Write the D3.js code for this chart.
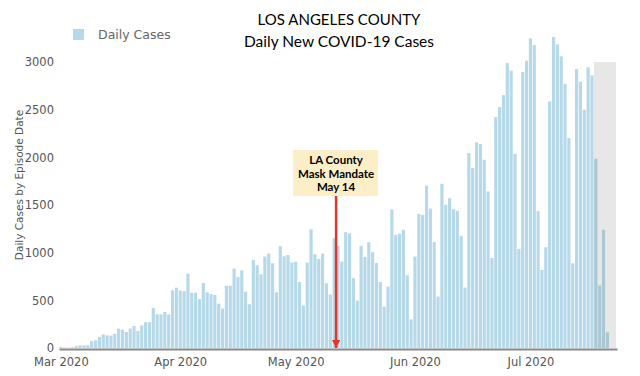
<!DOCTYPE html>
<html lang="en">
<head>
  <meta charset="UTF-8">
  <title>LA County Daily New COVID-19 Cases</title>
  <script src="https://d3js.org/d3.v7.min.js"></script>
  <style>
    body { margin: 0; background: #fff; }
    .bar { fill: #b5d9e8; }
    .axis text { font-family: "DejaVu Sans", sans-serif; fill: #555; }
  </style>
</head>
<body>
  <script>
    // daily cases by episode date, one array per month (starting Mar 1 2020)
    const marchCases = [12, 6, 4, 8, 20, 28, 28, 30, 73, 80, 115, 143, 133, 130, 150, 203, 192, 168, 203, 231, 178, 238, 270, 270, 420, 353, 353, 378, 353, 605, 633];
    const aprilCases = [602, 595, 780, 580, 580, 513, 682, 584, 567, 556, 465, 413, 654, 654, 833, 745, 815, 591, 458, 924, 868, 773, 959, 990, 889, 584, 1067, 962, 975, 896];
    const mayCases = [905, 693, 445, 896, 1246, 984, 935, 991, 679, 560, 1152, 1071, 907, 1215, 1204, 732, 497, 1071, 956, 1110, 1005, 893, 693, 434, 644, 1453, 1187, 1200, 1240, 763, 301];
    const juneCases = [959, 1407, 1397, 1703, 1463, 1110, 539, 1722, 1502, 1572, 1456, 1439, 1176, 634, 2044, 1887, 2156, 2139, 1974, 1642, 945, 2422, 2527, 2653, 2989, 2909, 2037, 1040, 2895, 3014];
    const julyCases = [3248, 3178, 1435, 819, 1057, 2587, 3262, 3185, 3059, 2769, 2202, 889, 2926, 2793, 2499, 2944, 2860, 1985, 655, 1239, 165];
    const yTicks = [0, 500, 1000, 1500, 2000, 2500, 3000];
    const startDate = new Date(Date.UTC(2020, 2, 1));
    const provisionalFrom = new Date(Date.UTC(2020, 6, 18)); // shaded, still incomplete
    const mandateDate = new Date(Date.UTC(2020, 4, 11, 12));
    const mandateLabel = ["LA County", "Mask Mandate", "May 14"];

    const cases = [].concat(marchCases, aprilCases, mayCases, juneCases, julyCases);
    const data = cases.map((v, i) => ({date: d3.utcDay.offset(startDate, i), value: v}));

    const width = 640, height = 376;
    const half = 12 * 3600 * 1000;

    const x = d3.scaleUtc()
      .domain([new Date(startDate - half), new Date(Date.UTC(2020, 6, 23, 12))])
      .range([59, 617]);
    const y = d3.scaleLinear().domain([0, 3000]).range([348, 62]);
    const dayW = x(d3.utcDay.offset(startDate, 1)) - x(startDate);

    const svg = d3.select("body").append("svg")
      .attr("width", width)
      .attr("height", height)
      .style("font-family", "DejaVu Sans, sans-serif");

    // title
    svg.append("text")
      .attr("x", 339).attr("y", 25)
      .attr("text-anchor", "middle")
      .style("font-family", "Lato, sans-serif").style("font-size", "15px")
      .text("LOS ANGELES COUNTY");
    svg.append("text")
      .attr("x", 339).attr("y", 47)
      .attr("text-anchor", "middle")
      .style("font-family", "Lato, sans-serif").style("font-size", "15.5px")
      .text("Daily New COVID-19 Cases");

    // legend
    svg.append("rect").attr("class", "bar")
      .attr("x", 73).attr("y", 29).attr("width", 11).attr("height", 11);
    svg.append("text")
      .attr("x", 98).attr("y", 39)
      .style("font-size", "12.5px").style("fill", "#666")
      .text("Daily Cases");

    // bars
    svg.selectAll(".bar.day")
      .data(data)
      .enter().append("rect")
        .attr("class", "bar day")
        .attr("x", d => x(d.date) - dayW / 2 + 0.35)
        .attr("y", d => y(d.value))
        .attr("width", dayW - 0.7)
        .attr("height", d => y(0) - y(d.value));

    // shaded area for incomplete recent days
    svg.append("rect")
      .attr("x", x(provisionalFrom) - dayW / 2)
      .attr("y", y(3000))
      .attr("width", 616 - (x(provisionalFrom) - dayW / 2))
      .attr("height", y(0) - y(3000))
      .style("fill", "rgba(120,120,120,0.18)");

    // axes
    const xAxis = svg.append("g")
      .attr("class", "axis")
      .attr("transform", "translate(0,349)")
      .call(d3.axisBottom(x).ticks(d3.utcMonth.every(1)).tickFormat(d3.utcFormat("%b %Y")).tickSize(0).tickPadding(9));
    xAxis.select(".domain").attr("stroke", "#888").attr("stroke-width", 2);
    xAxis.selectAll("text").style("font-size", "11.5px");

    const yAxis = svg.append("g")
      .attr("class", "axis")
      .attr("transform", "translate(59,0)")
      .call(d3.axisLeft(y).tickValues(yTicks).tickFormat(d3.format("d")).tickSize(0).tickPadding(5));
    yAxis.select(".domain").remove();
    yAxis.selectAll("text").style("font-size", "11.5px");

    svg.append("text")
      .attr("transform", "translate(19,185) rotate(-90)")
      .attr("dy", "0.35em")
      .attr("text-anchor", "middle")
      .style("font-size", "10.5px").style("fill", "#555")
      .text("Daily Cases by Episode Date");

    // mask mandate annotation
    const ax = x(mandateDate);
    svg.append("defs").append("marker")
      .attr("id", "head")
      .attr("viewBox", "0 0 10 10")
      .attr("refX", 10).attr("refY", 5)
      .attr("markerWidth", 3.2).attr("markerHeight", 3.2)
      .attr("orient", "auto")
      .append("path").attr("d", "M0,0L10,5L0,10Z").attr("fill", "#e3352b");
    svg.append("line")
      .attr("x1", ax).attr("x2", ax)
      .attr("y1", 196).attr("y2", y(0))
      .attr("stroke", "#e3352b").attr("stroke-width", 2.5)
      .attr("marker-end", "url(#head)");

    svg.append("rect")
      .attr("x", ax - 43).attr("y", 150)
      .attr("width", 85).attr("height", 46)
      .style("fill", "#fcefc8");
    svg.append("text")
      .attr("x", ax).attr("y", 150)
      .attr("text-anchor", "middle")
      .style("font-family", "Lato, sans-serif").style("font-size", "11.5px").style("font-weight", "bold")
      .selectAll("tspan")
      .data(mandateLabel)
      .enter().append("tspan")
        .attr("x", ax)
        .attr("dy", (d, i) => i === 0 ? 14 : 13.5)
        .text(d => d);
  </script>
</body>
</html>
